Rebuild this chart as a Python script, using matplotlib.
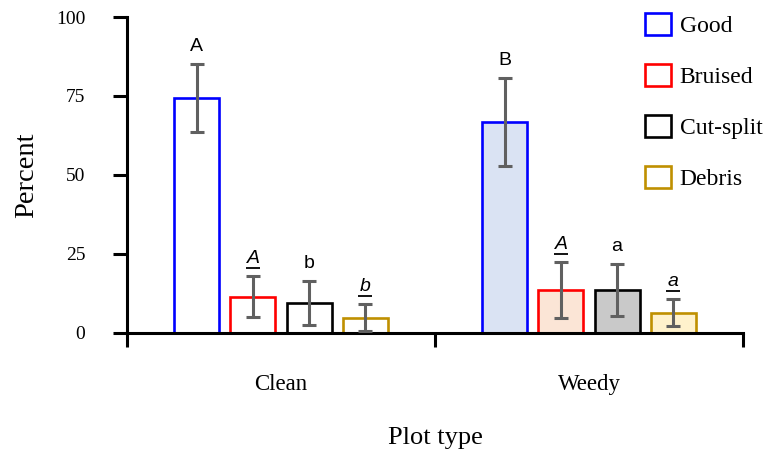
import matplotlib.pyplot as plt
from matplotlib.transforms import offset_copy
import numpy as np

plt.rcParams['font.family'] = ['Liberation Serif', 'DejaVu Serif']

# data
groups = ["Clean", "Weedy"]
series = ["Good", "Bruised", "Cut-split", "Debris"]
values = {
    "Clean": [74.4, 11.4, 9.5, 4.8],
    "Weedy": [66.8, 13.6, 13.6, 6.3],
}
errors = {
    "Clean": [10.7, 6.5, 7.0, 4.3],
    "Weedy": [14.0, 8.8, 8.2, 4.3],
}
letters = {
    "Clean": ["A", "A", "b", "b"],
    "Weedy": ["B", "A", "a", "a"],
}
underlined = [False, True, False, True]

edge_colors = ["#0000ff", "#ff0000", "#000000", "#bf9000"]
weedy_fills = ["#dae3f3", "#fbe5d6", "#c9c9c9", "#fff2cc"]

fig = plt.figure(figsize=(7.67, 4.49), dpi=100)
ax = fig.add_axes([0.1656, 0.259, 0.8031, 0.703])

width = 0.146
step = 0.182
offsets = (np.arange(4) - 1.5) * step
uline = offset_copy(ax.transData, fig=fig, y=6, units="points")

for g, grp in enumerate(groups):
    centre = g + 0.5
    for i, name in enumerate(series):
        x = centre + offsets[i]
        fill = "white" if grp == "Clean" else weedy_fills[i]
        ax.bar(x, values[grp][i], width=width, color=fill,
               edgecolor=edge_colors[i], linewidth=1.9, zorder=2,
               label=name if g == 0 else None)
        ax.errorbar(x, values[grp][i], yerr=errors[grp][i], fmt="none",
                    ecolor="#606060", elinewidth=2.2, capsize=5,
                    capthick=2.2, zorder=3)
        top = values[grp][i] + errors[grp][i]
        ax.annotate(letters[grp][i], (x, top), xytext=(0, 6.5),
                    textcoords="offset points", ha="center", va="bottom",
                    fontsize=14, family="Liberation Sans",
                    style="italic" if underlined[i] else "normal")
        if underlined[i]:
            ax.plot([x - 0.022, x + 0.022], [top, top], transform=uline,
                    color="black", lw=1.3, zorder=4, solid_capstyle="butt")

ax.set_xlim(0, 2)
ax.set_ylim(0, 100)
ax.set_yticks([0, 25, 50, 75, 100])
ax.set_yticklabels(["0", "25", "50", "75", "100"])
ax.set_xticks([0, 1, 2])
ax.set_xticklabels([])
ax.set_xticks([0.5, 1.5], minor=True)
ax.set_xticklabels(groups, minor=True)
ax.tick_params(axis="x", which="minor", length=0, pad=30, labelsize=16.5)
ax.tick_params(axis="x", which="major", direction="out", length=10, width=2.2)
ax.tick_params(axis="y", direction="out", length=10, width=2.2, labelsize=14, pad=20)

for side in ["top", "right"]:
    ax.spines[side].set_visible(False)
for side in ["left", "bottom"]:
    ax.spines[side].set_linewidth(2.2)

ax.set_ylabel("Percent", fontsize=20.5, labelpad=12)
ax.set_xlabel("Plot type", fontsize=19, labelpad=23)

ax.legend(loc="upper left", bbox_to_anchor=(0.829, 0.993),
          bbox_transform=fig.transFigure, frameon=False,
          fontsize=17, handlelength=1.1, handleheight=1.1, labelspacing=1.13,
          handletextpad=0.35, borderaxespad=0)

fig.savefig("out.png", dpi=100)
